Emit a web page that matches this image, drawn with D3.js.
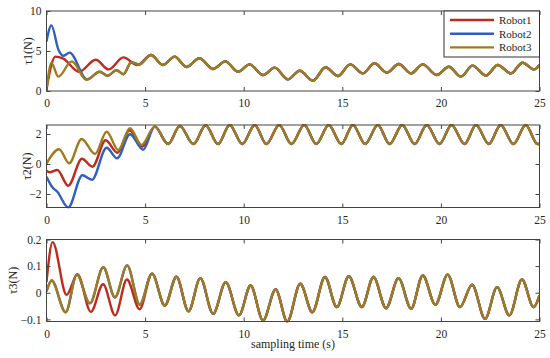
<!DOCTYPE html>
<html>
<head>
<meta charset="utf-8">
<script src="https://cdn.jsdelivr.net/npm/d3@7"></script>
<style>
  body { margin: 0; background: #fff; }
  svg text { font-family: "Liberation Serif", "DejaVu Serif", serif; fill: #262626; }
</style>
</head>
<body>
<div id="svgdiv"></div>
<script>
// chart data - [time, value] pairs (peaks and troughs)
var xTicks = [0, 5, 10, 15, 20, 25];
var robotNames = ["Robot1", "Robot2", "Robot3"];
var robotColors = ["#c02a1c", "#2f5fbf", "#a07a1e"];

// tau1
var tau1Robot1 = [[0,0.3],[0.45,4.3],[0.85,4.05],[1.65,2.4],[2.5,3.9],[3.15,2.7],[3.9,4.2],[4.6,3.25]];
var tau1Robot2 = [[0,6.2],[0.25,8.2],[0.6,5.2],[0.85,4.4],[1.17,4.8],[2.05,1.45],[2.7,2.4],[3.1,1.9],[3.55,2.6],[3.9,2.1],[4.3,3.6],[4.7,3.3]];
var tau1Robot3 = [[0,0],[0.25,3.5],[0.6,1.8],[1.28,3.7],[2.03,1.4],[2.7,2.4],[3.1,1.9],[3.55,2.6],[3.9,2.1],[4.3,3.6],[4.7,3.3]];
var tau1Shared = [[5.3,4.5],[5.9,3.25],[6.5,4.3],[7.1,3.0],[7.75,4.1],[8.45,2.75],[9.07,3.7],[9.71,2.4],[10.3,3.33],[10.98,2.0],[11.57,2.92],[12.24,1.46],[12.84,2.54],[13.51,1.29],[14.15,2.96],[14.78,1.87],[15.4,3.33],[16.04,2.2],[16.63,3.46],[17.26,2.3],[17.86,3.37],[18.49,2.2],[19.08,3.33],[19.79,2.0],[20.4,3.04],[21.02,1.8],[21.6,3.17],[22.29,1.92],[22.88,3.25],[23.55,2.2],[24.14,3.54],[24.73,2.7],[25,3.25]];
var tau1Ticks = [0, 5, 10];

// tau2
var tau2Robot1 = [[0,-0.45],[0.15,-0.55],[0.55,-0.4],[1.1,-1.45],[1.8,0.35],[2.33,-0.18],[3.0,1.58],[3.6,0.75],[4.21,2.25],[4.85,1.15]];
var tau2Robot2 = [[0,-0.85],[0.3,-1.55],[0.55,-1.85],[1.1,-2.9],[1.82,-0.75],[2.3,-1.05],[3.05,1.08],[3.58,0.38],[4.23,1.98],[4.9,0.95]];
var tau2Robot3 = [[0,0.03],[0.64,0.98],[1.15,0.05],[1.78,1.67],[2.46,0.67],[3.05,2.15],[3.64,0.93],[4.23,2.38],[4.82,1.27]];
var tau2Shared = [[5.49,2.49],[6.17,1.33],[6.76,2.53],[7.45,1.33],[8.07,2.58],[8.7,1.33],[9.29,2.6],[9.93,1.33],[10.56,2.6],[11.15,1.33],[11.8,2.6],[12.42,1.33],[13.07,2.6],[13.68,1.33],[14.31,2.6],[14.95,1.33],[15.54,2.6],[16.16,1.33],[16.8,2.6],[17.4,1.33],[18.04,2.6],[18.67,1.33],[19.28,2.6],[19.93,1.33],[20.54,2.6],[21.2,1.33],[21.78,2.6],[22.43,1.33],[23.03,2.6],[23.68,1.33],[24.3,2.6],[24.9,1.33],[25,1.35]];
var tau2Ticks = [-2, 0, 2];

// tau3 (Robot2 lies under Robot3 here)
var tau3Robot1 = [[0,0.04],[0.31,0.19],[1.02,-0.008],[1.57,0.07],[2.25,-0.072],[2.87,0.032],[3.48,-0.085],[4.08,0.05],[4.72,-0.062]];
var tau3Robot3 = [[0,0.005],[0.26,0.046],[0.97,-0.073],[1.54,0.068],[2.2,-0.04],[2.88,0.096],[3.47,-0.017],[4.09,0.103],[4.73,-0.045]];
var tau3Robot2 = tau3Robot3;
var tau3Shared = [[5.35,0.072],[6.0,-0.048],[6.59,0.06],[7.2,-0.07],[7.8,0.055],[8.45,-0.079],[9.09,0.04],[9.76,-0.085],[10.35,0.027],[10.98,-0.104],[11.62,0.012],[12.21,-0.108],[12.87,0.034],[13.48,-0.073],[14.12,0.059],[14.72,-0.054],[15.33,0.062],[15.99,-0.054],[16.58,0.059],[17.22,-0.058],[17.85,0.055],[18.49,-0.06],[19.08,0.065],[19.72,-0.045],[20.34,0.068],[20.97,-0.054],[21.58,0.03],[22.24,-0.098],[22.85,0.021],[23.47,-0.085],[24.11,0.05],[24.7,-0.054],[25,-0.01]];
var tau3Ticks = [-0.1, 0, 0.1, 0.2];

var width = 550, height = 358;
var left = 46.5, right = 539.5;

let svg = d3.select("#svgdiv").append("svg")
    .attr("width", width)
    .attr("height", height);

var x = d3.scaleLinear().domain([0, 25]).range([left, right]);

var panels = [
    {label: "\u03c41(N)", top: 11, bottom: 91, domain: [0, 10], ticks: tau1Ticks, fmt: d3.format("d"), labelX: 28,
     series: [tau1Robot1, tau1Robot2, tau1Robot3], shared: tau1Shared},
    {label: "\u03c42(N)", top: 125, bottom: 207.5, domain: [-2.9, 2.6], ticks: tau2Ticks, fmt: d3.format("d"), labelX: 27,
     series: [tau2Robot1, tau2Robot2, tau2Robot3], shared: tau2Shared},
    {label: "\u03c43(N)", top: 239.5, bottom: 321.5, domain: [-0.108, 0.2], ticks: tau3Ticks, fmt: d3.format(".1~f"), labelX: 13,
     series: [tau3Robot1, tau3Robot2, tau3Robot3], shared: tau3Shared}
];

panels.forEach(function(p){
    var y = d3.scaleLinear().domain(p.domain).range([p.bottom, p.top]);
    var g = svg.append("g");

    // clip so the curves stay in the box
    var clipId = "clip" + p.top;
    svg.append("clipPath").attr("id", clipId)
        .append("rect")
        .attr("x", left).attr("y", p.top - 1)
        .attr("width", right - left).attr("height", p.bottom - p.top + 2);

    var line = d3.line()
        .x(function(d){ return x(d[0]); })
        .y(function(d){ return y(d[1]); })
        .curve(d3.curveMonotoneX);

    p.series.forEach(function(s, i){
        g.append("path")
            .datum(s.concat(p.shared))
            .attr("clip-path", "url(#" + clipId + ")")
            .attr("d", line)
            .attr("fill", "none")
            .attr("stroke", robotColors[i])
            .attr("stroke-width", 2.4)
            .attr("stroke-linejoin", "round");
    });

    // box
    g.append("rect")
        .attr("x", left).attr("y", p.top)
        .attr("width", right - left).attr("height", p.bottom - p.top)
        .attr("fill", "none")
        .attr("stroke", "#444")
        .attr("stroke-width", 1);

    // axes, ticks inward, mirrored on top/right
    var xa = g.append("g").attr("transform", "translate(0," + p.bottom + ")")
        .call(d3.axisBottom(x).tickValues(xTicks).tickSizeInner(-4).tickSizeOuter(0).tickPadding(8));
    g.append("g").attr("transform", "translate(0," + p.top + ")")
        .call(d3.axisTop(x).tickValues(xTicks).tickSizeInner(-4).tickSizeOuter(0).tickFormat(""));
    var ya = g.append("g").attr("transform", "translate(" + left + ",0)")
        .call(d3.axisLeft(y).tickValues(p.ticks).tickSizeInner(-4).tickSizeOuter(0).tickPadding(5)
              .tickFormat(function(d){ return p.fmt(d).replace("-", "\u2212"); }));
    g.append("g").attr("transform", "translate(" + right + ",0)")
        .call(d3.axisRight(y).tickValues(p.ticks).tickSizeInner(-4).tickSizeOuter(0).tickFormat(""));

    g.selectAll(".domain").remove();
    g.selectAll(".tick line").attr("stroke", "#444");
    g.selectAll(".tick text").style("font-size", "11.5px").attr("fill", "#262626");

    // y label
    g.append("text")
        .text(p.label)
        .attr("transform", "translate(" + p.labelX + "," + ((p.top + p.bottom) / 2) + ") rotate(-90)")
        .attr("text-anchor", "middle")
        .attr("dy", "0.35em")
        .style("font-size", "12px");
});

// x label
svg.append("text")
    .text("sampling time (s)")
    .attr("x", (left + right) / 2)
    .attr("y", 348)
    .attr("text-anchor", "middle")
    .style("font-size", "12px");

// legend
var legend = svg.append("g");
legend.append("rect")
    .attr("x", 444).attr("y", 11)
    .attr("width", 95.5).attr("height", 46)
    .attr("fill", "#fff")
    .attr("stroke", "#333")
    .attr("stroke-width", 1);

robotNames.forEach(function(name, i){
    var ly = 20 + i * 13.7;
    legend.append("line")
        .attr("x1", 450).attr("x2", 494)
        .attr("y1", ly).attr("y2", ly)
        .attr("stroke", robotColors[i])
        .attr("stroke-width", 2.4);
    legend.append("text")
        .text(name)
        .attr("x", 499).attr("y", ly)
        .attr("dy", "0.35em")
        .style("font-size", "11px");
});
</script>
</body>
</html>
